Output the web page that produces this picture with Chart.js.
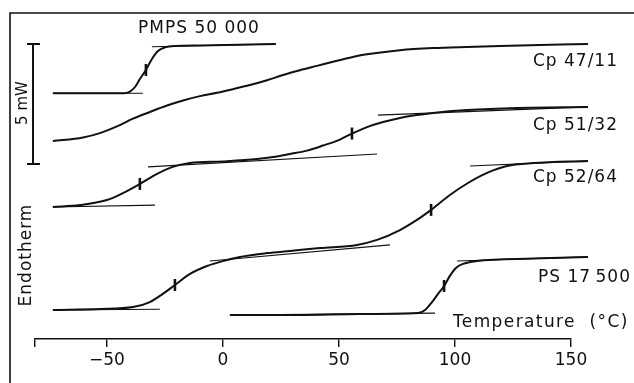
<!DOCTYPE html>
<html>
<head>
<meta charset="utf-8">
<script src="https://cdn.jsdelivr.net/npm/chart.js@4"></script>
<style>
  html, body { margin: 0; padding: 0; background: #fff; }
</style>
</head>
<body>
<canvas id="dsc" width="634" height="383"></canvas>
<script>
// DSC heating traces: temperature (°C) vs heat flow (mW, each trace shifted)
const xTicks = [-50, 0, 50, 100, 150];

const pmpsT = [-73.3, -42.7, -40.1, -37.9, -35.8, -33.2, -30.6, -28.0, -25.0, -20.7, -9.9, 22.8];
const pmpsQ = [10.24, 10.24, 10.31, 10.50, 10.83, 11.21, 11.67, 12.00, 12.15, 12.21, 12.23, 12.29];

const cp4711T = [-73.3, -60.3, -53.0, -45.7, -38.8, -31.5, -24.1, -17.2, -9.9, -2.6, 4.3, 11.6, 19.0,
                 25.9, 33.2, 40.5, 47.4, 54.7, 62.1, 76.3, 90.5, 105.2, 119.4, 136.6, 157.3];
const cp4711Q = [8.25, 8.40, 8.58, 8.86, 9.18, 9.46, 9.73, 9.94, 10.12, 10.26, 10.41, 10.58, 10.78,
                 11.00, 11.20, 11.38, 11.55, 11.72, 11.86, 12.03, 12.12, 12.17, 12.21, 12.25, 12.29];

const cp5132T = [-73.3, -61.6, -50.0, -43.1, -35.8, -28.4, -21.6, -14.2, 0.0, 14.7, 21.6, 28.9,
                 36.2, 43.1, 50.4, 55.6, 62.1, 69.0, 76.3, 83.6, 90.5, 105.2, 126.7, 157.3];
const cp5132Q = [5.50, 5.58, 5.79, 6.08, 6.46, 6.88, 7.17, 7.33, 7.40, 7.50, 7.58, 7.71,
                 7.85, 8.06, 8.31, 8.56, 8.83, 9.04, 9.21, 9.33, 9.42, 9.54, 9.63, 9.67];

const cp5264T = [-73.3, -53.0, -38.8, -31.5, -25.9, -20.7, -14.2, -6.9, 0.0, 7.3, 19.0, 28.9,
                 41.8, 57.8, 66.4, 76.3, 83.6, 89.7, 97.8, 105.6, 113.8, 122.4, 133.6, 157.3];
const cp5264Q = [1.21, 1.25, 1.33, 1.54, 1.88, 2.25, 2.71, 3.04, 3.25, 3.42, 3.58, 3.67,
                 3.79, 3.92, 4.13, 4.54, 4.96, 5.38, 6.00, 6.50, 6.92, 7.21, 7.33, 7.42];

const psT = [3.0, 33.2, 59.1, 84.1, 87.1, 90.1, 92.7, 95.3, 97.8, 100.4, 103.4, 109.5, 133.6, 157.3];
const psQ = [1.00, 1.00, 1.04, 1.08, 1.21, 1.54, 1.88, 2.21, 2.63, 2.96, 3.13, 3.25, 3.35, 3.42];

// tangent (construction) lines: [T1, Q1, T2, Q2]
const tangents = [
  [-73.3, 10.24, -34.5, 10.24], [-30.6, 12.18, 22.8, 12.29],
  [-73.3, 5.50, -29.3, 5.58], [-32.3, 7.17, 66.4, 7.71], [66.8, 9.33, 157.3, 9.67],
  [-73.3, 1.21, -27.2, 1.24], [-5.6, 3.25, 72.0, 3.92], [106.5, 7.21, 157.3, 7.42],
  [3.0, 1.00, 91.4, 1.08], [100.9, 3.25, 157.3, 3.42]
];

// glass transition marks
const tgT = [-33.2, -35.8, 55.6, -20.7, 89.7, 95.3];
const tgQ = [11.21, 6.46, 8.56, 2.25, 5.38, 2.21];

const traceLabels = ['PMPS 50 000', 'Cp 47/11', 'Cp 51/32', 'Cp 52/64', 'PS 17\u2009500'];

const toPts = (t, q) => t.map((v, i) => ({x: v, y: q[i]}));
const INK = '#111';
const FONT = '"DejaVu Sans", sans-serif';

const curve = (t, q) => ({
  data: toPts(t, q),
  borderColor: INK, borderWidth: 2, pointRadius: 0,
  cubicInterpolationMode: 'monotone', clip: false
});

const datasets = [
  curve(pmpsT, pmpsQ), curve(cp4711T, cp4711Q), curve(cp5132T, cp5132Q),
  curve(cp5264T, cp5264Q), curve(psT, psQ)
];
tangents.forEach(s => datasets.push({
  data: [{x: s[0], y: s[1]}, {x: s[2], y: s[3]}],
  borderColor: INK, borderWidth: 1.1, pointRadius: 0, clip: false
}));
datasets.push({
  data: toPts(tgT, tgQ), showLine: false,
  pointStyle: 'line', pointRadius: 6, pointRotation: 90,
  borderColor: INK, borderWidth: 2.6, clip: false
});

// frame, 5 mW bar and text
const decorations = {
  id: 'decorations',
  afterDraw(chart) {
    const {ctx, scales: {x, y}} = chart;
    ctx.save();
    ctx.strokeStyle = INK;
    ctx.fillStyle = INK;
    ctx.lineWidth = 1.6;
    ctx.beginPath();
    ctx.moveTo(10, 383); ctx.lineTo(10, 13); ctx.lineTo(634, 13);
    ctx.stroke();

    const bx = chart.chartArea.left - 2;
    const top = y.getPixelForValue(12.29), bot = y.getPixelForValue(12.29 - 5);
    ctx.lineWidth = 2;
    ctx.beginPath();
    ctx.moveTo(bx, top); ctx.lineTo(bx, bot);
    ctx.moveTo(bx - 6, top); ctx.lineTo(bx + 7, top);
    ctx.moveTo(bx - 6, bot); ctx.lineTo(bx + 7, bot);
    ctx.stroke();

    ctx.font = '17px ' + FONT;
    ctx.letterSpacing = '1px';
    ctx.textBaseline = 'middle';
    ctx.textAlign = 'left';
    const spots = [[-36.6, 12.92], [133.6, 11.54], [133.6, 8.88], [133.6, 6.71], [135.8, 2.58]];
    traceLabels.forEach((s, i) => {
      ctx.fillText(s, x.getPixelForValue(spots[i][0]), y.getPixelForValue(spots[i][1]));
    });
    ctx.letterSpacing = '1.4px';
    ctx.fillText('Temperature  (°C)', x.getPixelForValue(99.1), y.getPixelForValue(0.67));

    ctx.textAlign = 'center';
    ctx.save();
    ctx.translate(23, 103); ctx.rotate(-Math.PI / 2);
    ctx.font = '15px ' + FONT; ctx.letterSpacing = '0px';
    ctx.fillText('5 mW', 0, 0);
    ctx.restore();
    ctx.save();
    ctx.translate(27, 255); ctx.rotate(-Math.PI / 2);
    ctx.letterSpacing = '1px';
    ctx.fillText('Endotherm', 0, 0);
    ctx.restore();
    ctx.restore();
  }
};

new Chart(document.getElementById('dsc'), {
  type: 'line',
  data: {datasets: datasets},
  options: {
    responsive: false,
    animation: false,
    layout: {padding: {left: 35, right: 63, top: 15, bottom: 14}},
    plugins: {legend: {display: false}, tooltip: {enabled: false}},
    scales: {
      x: {
        type: 'linear', min: -81, max: 150,
        afterFit: s => { s.height = 30; },
        afterBuildTicks: s => {
          s.ticks = [{value: -81}].concat(xTicks.map(v => ({value: v})));
        },
        ticks: {
          color: INK, padding: 3, font: {family: FONT, size: 17},
          callback: v => xTicks.includes(v) ? String(v).replace('-', '\u2212') : ''
        },
        grid: {drawOnChartArea: false, drawTicks: true, tickLength: 8, color: INK, lineWidth: 1.4},
        border: {display: true, color: INK, width: 1.5}
      },
      y: {type: 'linear', min: 0, max: 13.5, display: false}
    }
  },
  plugins: [decorations]
});
</script>
</body>
</html>
